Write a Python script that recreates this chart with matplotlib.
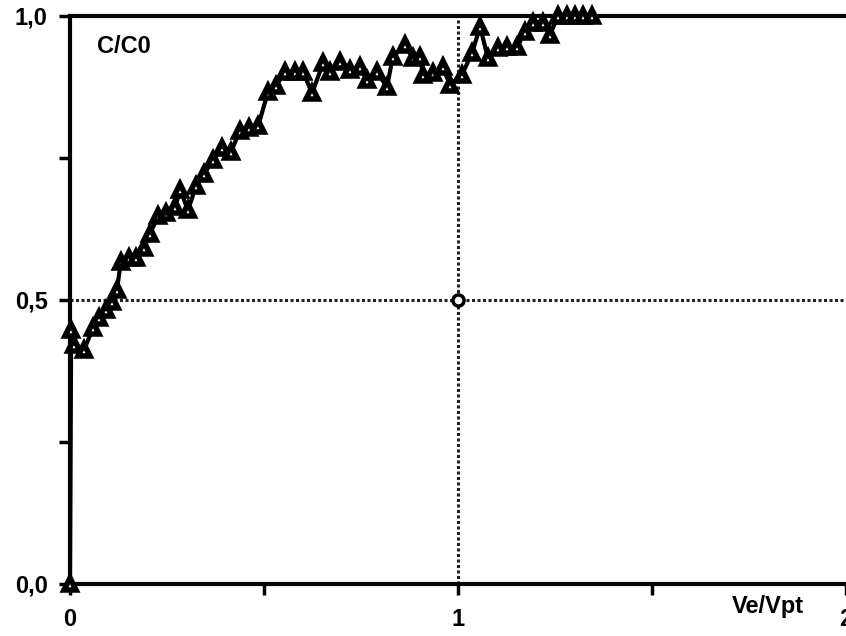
import matplotlib.pyplot as plt
from matplotlib.ticker import FixedLocator

# breakthrough curve
ve_vpt = [0.0, 0.003, 0.01, 0.036, 0.059, 0.075, 0.093, 0.108, 0.121, 0.131,
          0.152, 0.170, 0.191, 0.206, 0.227, 0.247, 0.271, 0.284, 0.304, 0.325,
          0.345, 0.369, 0.392, 0.415, 0.438, 0.461, 0.485, 0.510, 0.531, 0.554,
          0.580, 0.601, 0.624, 0.652, 0.670, 0.696, 0.722, 0.747, 0.765, 0.791,
          0.817, 0.832, 0.863, 0.884, 0.902, 0.910, 0.936, 0.961, 0.979, 1.010,
          1.036, 1.057, 1.077, 1.103, 1.126, 1.152, 1.173, 1.193, 1.219, 1.237,
          1.258, 1.281, 1.302, 1.322, 1.345]
c_c0 = [0.0, 0.447, 0.42, 0.412, 0.45, 0.468, 0.482, 0.496, 0.518, 0.567,
        0.574, 0.574, 0.592, 0.616, 0.648, 0.653, 0.664, 0.694, 0.658, 0.701,
        0.722, 0.746, 0.768, 0.761, 0.798, 0.803, 0.806, 0.866, 0.877, 0.901,
        0.901, 0.901, 0.864, 0.917, 0.901, 0.919, 0.905, 0.910, 0.887, 0.901,
        0.875, 0.928, 0.949, 0.926, 0.928, 0.896, 0.900, 0.910, 0.879, 0.896,
        0.935, 0.981, 0.926, 0.944, 0.945, 0.945, 0.972, 0.988, 0.988, 0.967,
        1.0, 1.0, 1.0, 1.0, 1.0]

y_ticks = [0.0, 0.5, 1.0]
y_labels = ["0,0", "0,5", "1,0"]
x_ticks = [0, 1, 2]
x_labels = ["0", "1", "2"]

plt.rcParams['font.family'] = ['Liberation Sans', 'DejaVu Sans']

fig = plt.figure(figsize=(8.46, 6.36), dpi=100)
W, H = 846, 636
ax = fig.add_axes([70 / W, (H - 584) / H, (846 - 70) / W, (584 - 16) / H])

# reference lines and the marked point
ax.axvline(1, color='#222222', lw=2.2, ls=(0, (1, 0.8)), zorder=1)
ax.axhline(0.5, color='#222222', lw=2.2, ls=(0, (1, 0.8)), zorder=1)
ax.plot([1], [0.5], 'o', ms=8, mfc='white', mec='black', mew=2.5, zorder=2)

ax.plot(ve_vpt, c_c0, color='black', lw=3, marker='^', ms=9,
        mfc='white', mec='black', mew=4, clip_on=False, zorder=3)

ax.set_xlim(0, 2)
ax.set_ylim(0, 1)

for side in ['left', 'bottom', 'top']:
    ax.spines[side].set_linewidth(3)
ax.spines['right'].set_visible(False)

ax.set_xticks(x_ticks)
ax.set_xticklabels(x_labels, fontsize=17, fontweight='bold')
ax.set_yticks(y_ticks)
ax.set_yticklabels(y_labels, fontsize=17, fontweight='bold')
ax.xaxis.set_minor_locator(FixedLocator([0.5, 1.5]))
ax.yaxis.set_minor_locator(FixedLocator([0.25, 0.75]))
ax.tick_params(axis='both', which='both', direction='out', width=2.5, length=8)
ax.tick_params(axis='x', which='major', pad=9)
ax.tick_params(axis='y', which='major', pad=8)

ax.text(0.07, 0.947, "C/C0", fontsize=17, fontweight='bold', ha='left', va='center')
ax.text(1.8, -0.04, "Ve/Vpt", fontsize=17, fontweight='bold', ha='center',
        va='center', clip_on=False)

fig.savefig("out.png", dpi=100)
